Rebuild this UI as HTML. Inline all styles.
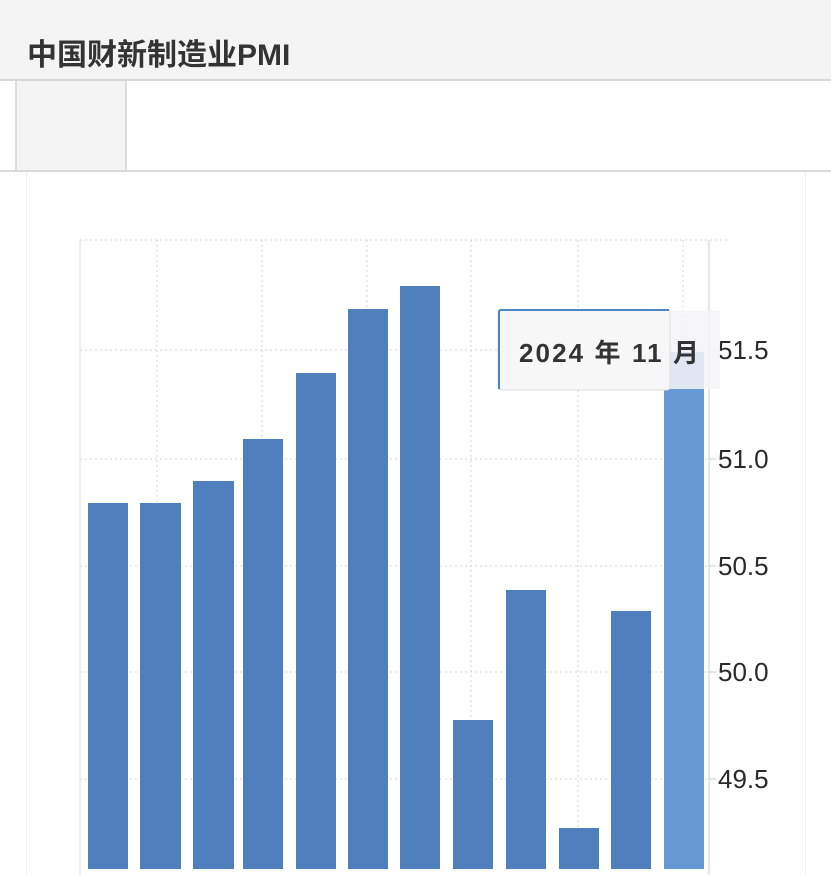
<!DOCTYPE html>
<html><head><meta charset="utf-8"><style>
body{margin:0;width:831px;height:875px;overflow:hidden;background:#fff;font-family:"Liberation Sans","Noto Sans CJK SC",sans-serif;position:relative}
.hdr{position:absolute;left:0;top:0;width:831px;height:79px;background:#f4f4f4;border-bottom:2px solid #d8d8d8}
.hdr span{position:absolute;left:27px;top:30px;font-size:30px;font-weight:bold;color:#333}
.box{position:absolute;left:15px;top:81px;width:108px;height:89px;background:#f4f4f4;border-left:2px solid #ddd;border-right:2px solid #ddd}
.line2{position:absolute;left:0;top:170px;width:831px;height:2px;background:#d8d8d8}
.card{position:absolute;left:26px;top:172px;width:778px;height:703px;border-left:1px solid #eee;border-right:1px solid #eee}
</style></head><body>
<div class="hdr"><span>中国财新制造业PMI</span></div>
<div class="box"></div>
<div class="line2"></div>
<div class="card"></div>
<svg width="831" height="875" style="position:absolute;left:0;top:0">
<g stroke="#d6d6d6" stroke-dasharray="2,3" stroke-width="1">
<line x1="80" y1="240" x2="730" y2="240"/>
<line x1="80" y1="350" x2="710" y2="350"/>
<line x1="80" y1="459" x2="710" y2="459"/>
<line x1="80" y1="566" x2="710" y2="566"/>
<line x1="80" y1="672" x2="710" y2="672"/>
<line x1="80" y1="779" x2="710" y2="779"/>
<line x1="157" y1="240" x2="157" y2="870"/>
<line x1="262" y1="240" x2="262" y2="870"/>
<line x1="367" y1="240" x2="367" y2="870"/>
<line x1="471" y1="240" x2="471" y2="870"/>
<line x1="578" y1="240" x2="578" y2="870"/>
<line x1="683" y1="240" x2="683" y2="870"/>
</g>
<line x1="80" y1="240" x2="80" y2="875" stroke="#ddd"/>
<line x1="709" y1="240" x2="709" y2="875" stroke="#ccc"/>
<g stroke="#ccc"><line x1="709" y1="350" x2="716" y2="350"/><line x1="709" y1="459" x2="716" y2="459"/><line x1="709" y1="566" x2="716" y2="566"/><line x1="709" y1="672" x2="716" y2="672"/><line x1="709" y1="779" x2="716" y2="779"/></g>
<g fill="#4f7fbd">
<rect x="88" y="503" width="40" height="366"/>
<rect x="140" y="503" width="41" height="366"/>
<rect x="193" y="481" width="41" height="388"/>
<rect x="243" y="439" width="40" height="430"/>
<rect x="296" y="373" width="40" height="496"/>
<rect x="348" y="309" width="40" height="560"/>
<rect x="400" y="286" width="40" height="583"/>
<rect x="453" y="720" width="40" height="149"/>
<rect x="506" y="590" width="40" height="279"/>
<rect x="559" y="828" width="40" height="41"/>
<rect x="611" y="611" width="40" height="258"/>
</g>
<rect x="664" y="352" width="40" height="517" fill="#6699d3"/>
<g font-size="26" fill="#2a2a2a" font-family="Liberation Sans,sans-serif">
<text x="718" y="359">51.5</text><text x="718" y="468">51.0</text><text x="718" y="575">50.5</text><text x="718" y="681">50.0</text><text x="718" y="788">49.5</text>
</g>
<rect x="668" y="311" width="52" height="78" fill="#f4f5f8" opacity="0.85"/>
<rect x="498" y="310" width="172" height="80" rx="3" fill="#f7f7f7" stroke="#dcdcdc"/>
<path d="M499 389 V312 Q499 310 501 310 H669" stroke="#4a86c8" stroke-width="2" fill="none"/>
<text x="519" y="362" font-size="26" font-weight="bold" fill="#333" font-family="Liberation Sans,Noto Sans CJK SC,sans-serif" textLength="180" lengthAdjust="spacing">2024 年 11 月</text>
</svg>
</body></html>
